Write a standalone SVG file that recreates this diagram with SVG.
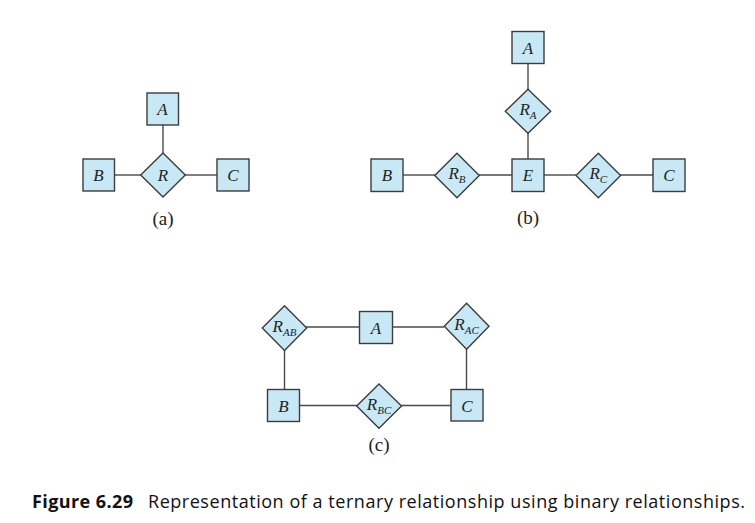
<svg xmlns="http://www.w3.org/2000/svg" width="755" height="523" viewBox="0 0 755 523">
<style>
.ent{fill:#c8e8f6;stroke:#3c3c3c;stroke-width:1.4}
.rel{fill:#c8e8f6;stroke:#3c3c3c;stroke-width:1.4}
.ln{stroke:#4a4a4a;stroke-width:1.4;fill:none}
.lb{font-family:"Liberation Serif",serif;font-style:italic;font-size:17px;fill:#222;text-anchor:middle}
.sub{font-size:11px}
.cap{font-family:"Liberation Serif",serif;font-size:19px;fill:#222;text-anchor:middle}
.fig{font-family:"Open Sans","Noto Sans",sans-serif;font-size:18px;fill:#111}
</style>
<rect width="755" height="523" fill="#fff"/>
<g id="connectors">
<line class="ln" x1="163" y1="125" x2="163" y2="153"/>
<line class="ln" x1="114" y1="175" x2="141" y2="175"/>
<line class="ln" x1="185" y1="175" x2="217" y2="175"/>
<line class="ln" x1="528" y1="63" x2="528" y2="89"/>
<line class="ln" x1="528" y1="133" x2="528" y2="159"/>
<line class="ln" x1="403" y1="175" x2="435" y2="175"/>
<line class="ln" x1="479" y1="175" x2="512" y2="175"/>
<line class="ln" x1="544" y1="175" x2="576" y2="175"/>
<line class="ln" x1="620" y1="175" x2="653" y2="175"/>
<line class="ln" x1="306" y1="327" x2="359" y2="327"/>
<line class="ln" x1="392" y1="327" x2="444" y2="327"/>
<line class="ln" x1="284.5" y1="350" x2="284.5" y2="389"/>
<line class="ln" x1="466.5" y1="349" x2="466.5" y2="389"/>
<line class="ln" x1="299" y1="405.5" x2="357" y2="405.5"/>
<line class="ln" x1="401" y1="405.5" x2="451" y2="405.5"/>
</g>
<g id="a_A"><rect class="ent" x="147" y="93" width="31.5" height="32"/><text class="lb" x="162.5" y="115">A</text></g>
<g id="a_R"><polygon class="rel" points="163,153 185.3,175 163,197 140.7,175"/><text class="lb" x="163" y="181">R</text></g>
<g id="a_B"><rect class="ent" x="83" y="159" width="31.5" height="32"/><text class="lb" x="98.5" y="181">B</text></g>
<g id="a_C"><rect class="ent" x="217" y="159" width="32" height="32"/><text class="lb" x="233" y="181">C</text></g>
<text class="cap" x="163" y="225">(a)</text>
<g id="b_A"><rect class="ent" x="512" y="31.5" width="32" height="32"/><text class="lb" x="528" y="53.5">A</text></g>
<g id="b_RA"><polygon class="rel" points="528,89.3 550.7,111.3 528,133.3 505.3,111.3"/><text class="lb" x="528" y="115">R<tspan class="sub" dy="4">A</tspan></text></g>
<g id="b_E"><rect class="ent" x="512" y="159" width="32" height="32.5"/><text class="lb" x="528" y="181">E</text></g>
<g id="b_B"><rect class="ent" x="371" y="159" width="32" height="32.5"/><text class="lb" x="387" y="181">B</text></g>
<g id="b_RB"><polygon class="rel" points="457,153.3 479.3,175.5 457,197.7 434.7,175.5"/><text class="lb" x="457" y="179">R<tspan class="sub" dy="4">B</tspan></text></g>
<g id="b_RC"><polygon class="rel" points="598.3,153.3 620.6,175.5 598.3,197.7 576,175.5"/><text class="lb" x="598.3" y="179">R<tspan class="sub" dy="4">C</tspan></text></g>
<g id="b_C"><rect class="ent" x="653" y="159" width="32" height="32.5"/><text class="lb" x="669" y="181">C</text></g>
<text class="cap" x="528" y="224">(b)</text>
<g id="c_RAB"><polygon class="rel" points="284.5,305.7 306.7,328 284.5,350.5 262.3,328"/><text class="lb" x="284.5" y="331.5">R<tspan class="sub" dy="4">AB</tspan></text></g>
<g id="c_A"><rect class="ent" x="359.5" y="311.5" width="33" height="32"/><text class="lb" x="376" y="333.5">A</text></g>
<g id="c_RAC"><polygon class="rel" points="466.6,303.3 489,326.3 466.6,349.3 444.3,326.3"/><text class="lb" x="466.6" y="330">R<tspan class="sub" dy="4">AC</tspan></text></g>
<g id="c_B"><rect class="ent" x="267.5" y="389.5" width="32" height="32"/><text class="lb" x="283.5" y="411.5">B</text></g>
<g id="c_RBC"><polygon class="rel" points="379,384 401.5,406 379,428.3 356.7,406"/><text class="lb" x="379" y="409.5">R<tspan class="sub" dy="4">BC</tspan></text></g>
<g id="c_C"><rect class="ent" x="451" y="389.5" width="32" height="31.5"/><text class="lb" x="467" y="411.5">C</text></g>
<text class="cap" x="379" y="451">(c)</text>
<text class="fig" x="32" y="508"><tspan font-weight="bold" textLength="101" lengthAdjust="spacing">Figure 6.29</tspan><tspan x="148" textLength="597" lengthAdjust="spacing">Representation of a ternary relationship using binary relationships.</tspan></text>
</svg>
